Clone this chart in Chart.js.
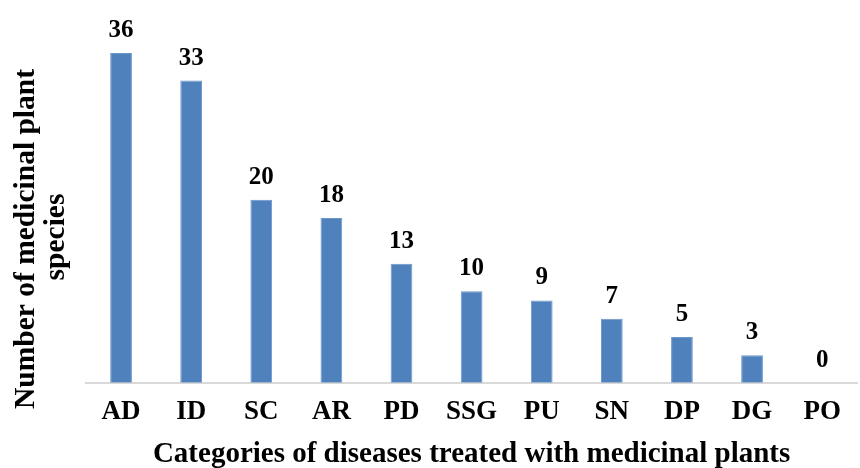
<!DOCTYPE html>
<html>
<head>
<meta charset="utf-8">
<script src="https://cdn.jsdelivr.net/npm/chart.js@4"></script>
<style>
  html, body { margin: 0; padding: 0; background: #fff; }
  #wrap { width: 860px; height: 468px; position: relative; }
</style>
</head>
<body>
<div id="wrap"><canvas id="c"></canvas></div>
<script>
const categories = ['AD', 'ID', 'SC', 'AR', 'PD', 'SSG', 'PU', 'SN', 'DP', 'DG', 'PO'];
const speciesCounts = [36, 33, 20, 18, 13, 10, 9, 7, 5, 3, 0];
const yTitleLines = ['Number of medicinal plant', 'species'];
const xTitle = 'Categories of diseases treated with medicinal plants';

const FONT = "'Liberation Serif', 'Times New Roman', serif";

// Value labels above each bar
const valueLabels = {
  id: 'valueLabels',
  afterDatasetsDraw(chart) {
    const ctx = chart.ctx;
    const meta = chart.getDatasetMeta(0);
    ctx.save();
    ctx.font = 'bold 25px ' + FONT;
    ctx.fillStyle = '#000';
    ctx.textAlign = 'center';
    ctx.textBaseline = 'alphabetic';
    meta.data.forEach((bar, i) => {
      ctx.fillText(String(speciesCounts[i]), bar.x, bar.y - 16);
    });
    ctx.restore();
  }
};

// Rotated two-line y-axis title
const yTitle = {
  id: 'yTitle',
  afterDraw(chart) {
    const ctx = chart.ctx;
    ctx.save();
    ctx.font = 'bold 29.5px ' + FONT;
    ctx.fillStyle = '#000';
    ctx.textAlign = 'center';
    ctx.textBaseline = 'alphabetic';
    ctx.translate(0, 239);
    ctx.rotate(-Math.PI / 2);
    ctx.fillText(yTitleLines[0], 0, 34);
    ctx.fillText(yTitleLines[1], 2, 64);
    ctx.restore();
  }
};

new Chart(document.getElementById('c'), {
  type: 'bar',
  data: {
    labels: categories,
    datasets: [{
      data: speciesCounts,
      backgroundColor: '#4f81bd',
      borderColor: '#6b97cc',
      borderWidth: 1,
      categoryPercentage: 1,
      barPercentage: 0.31
    }]
  },
  options: {
    responsive: true,
    maintainAspectRatio: false,
    animation: false,
    layout: { padding: { left: 86, right: 2, top: 0, bottom: 0 } },
    plugins: {
      legend: { display: false },
      tooltip: { enabled: false }
    },
    scales: {
      y: {
        display: false,
        min: 0,
        max: 41.8
      },
      x: {
        grid: { display: false, drawTicks: false },
        border: { color: '#d9d9d9', width: 2 },
        ticks: {
          color: '#000',
          font: { family: FONT, size: 27, weight: 'bold', lineHeight: 0.78 },
          padding: 19,
          maxRotation: 0
        },
        title: {
          display: true,
          text: xTitle,
          color: '#000',
          font: { family: FONT, size: 29, weight: 'bold', lineHeight: 0.9 },
          padding: { top: 0, bottom: 0 }
        }
      }
    }
  },
  plugins: [valueLabels, yTitle]
});
</script>
</body>
</html>
